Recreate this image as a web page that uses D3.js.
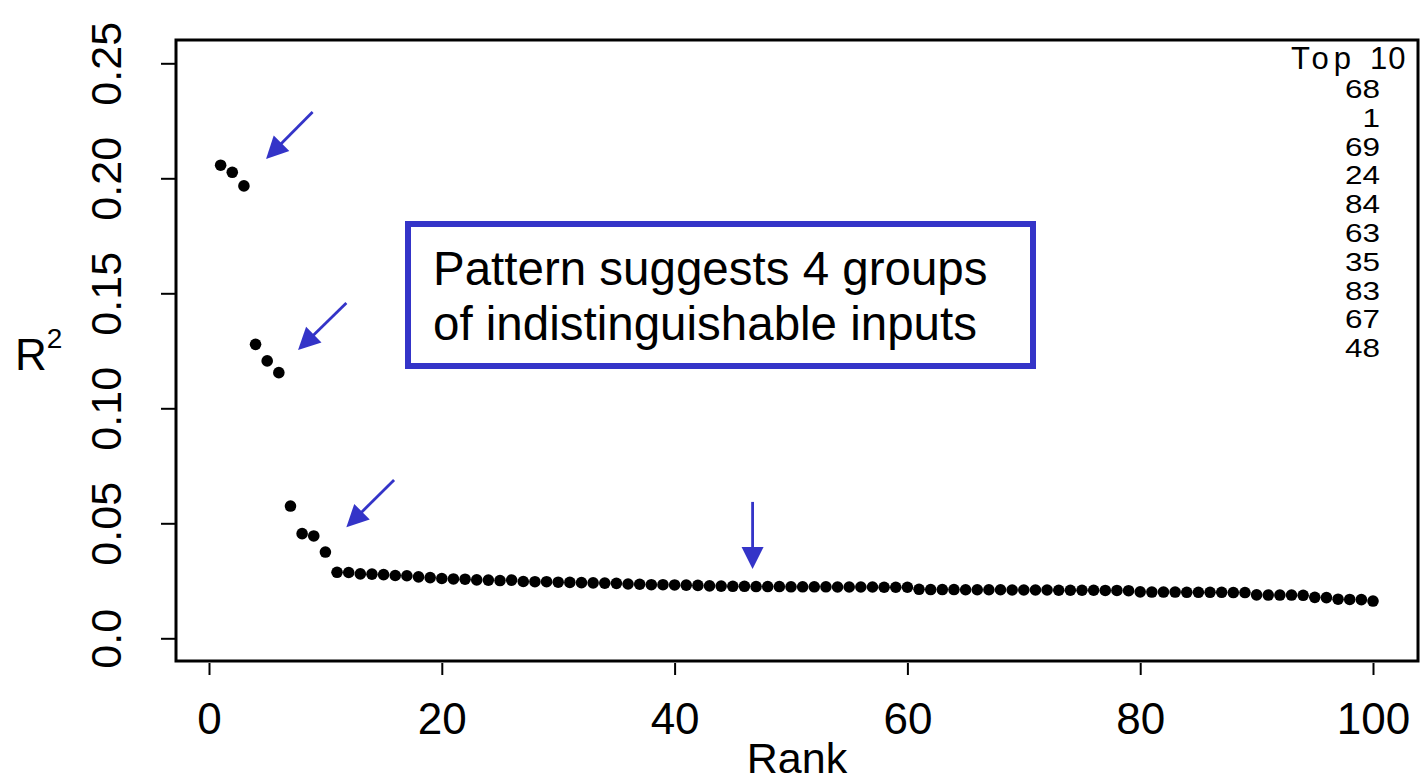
<!DOCTYPE html>
<html>
<head>
<meta charset="utf-8">
<script src="https://cdn.jsdelivr.net/npm/d3@7"></script>
<style>
  html, body { margin: 0; padding: 0; background: #fff; }
  svg { display: block; }
</style>
</head>
<body>
<svg id="chart" width="1425" height="783"></svg>
<script>
// R^2 of each input, sorted by rank (rank = position + 1)
const r2Values = [
  0.2057, 0.2026, 0.1967, 0.1278, 0.1206, 0.1155, 0.0575, 0.0455, 0.0445, 0.0375,
  0.0287, 0.0286, 0.0280, 0.0279, 0.0277, 0.0273, 0.0272, 0.0267, 0.0264, 0.0260,
  0.0258, 0.0257, 0.0254, 0.0253, 0.0251, 0.0253, 0.0247, 0.0246, 0.0246, 0.0244,
  0.0243, 0.0242, 0.0241, 0.0240, 0.0239, 0.0236, 0.0235, 0.0233, 0.0233, 0.0232,
  0.0231, 0.0230, 0.0228, 0.0227, 0.0226, 0.0226, 0.0225, 0.0225, 0.0225, 0.0224,
  0.0224, 0.0224, 0.0224, 0.0223, 0.0223, 0.0223, 0.0223, 0.0222, 0.0222, 0.0222,
  0.0213, 0.0212, 0.0212, 0.0212, 0.0211, 0.0211, 0.0211, 0.0211, 0.0210, 0.0210,
  0.0210, 0.0210, 0.0209, 0.0209, 0.0209, 0.0209, 0.0208, 0.0208, 0.0207, 0.0202,
  0.0201, 0.0201, 0.0201, 0.0200, 0.0200, 0.0200, 0.0200, 0.0199, 0.0199, 0.0189,
  0.0188, 0.0188, 0.0188, 0.0187, 0.0178, 0.0177, 0.0170, 0.0169, 0.0168, 0.0162
];

const xTicks = [0, 20, 40, 60, 80, 100];
const yTicks = [0, 0.05, 0.10, 0.15, 0.20, 0.25];
const yTickLabels = ["0.0", "0.05", "0.10", "0.15", "0.20", "0.25"];

// Inputs with the ten highest R^2 values
const topTitleWords = ["Top", "10"];
const topInputs = ["68", "1", "69", "24", "84", "63", "35", "83", "67", "48"];

// Arrows pointing at each group, in (rank, R^2) units
const arrowFrom = [[8.9, 0.2288], [11.8, 0.1458], [15.9, 0.0688], [46.7, 0.0593]];
const arrowTo   = [[4.9, 0.2084], [7.65, 0.1253], [11.8, 0.0483], [46.7, 0.0301]];

const noteLines = ["Pattern suggests 4 groups", "of indistinguishable inputs"];

// ---- layout ----
const FONT = "'Liberation Sans', Arial, Helvetica, sans-serif";
const BLUE = "#3434c8";
const box = { left: 176, right: 1418, top: 40, bottom: 661 };

const svg = d3.select("#chart");

const x = d3.scaleLinear().domain([0, 100]).range([209, 1373]);
const y = d3.scaleLinear().domain([0, 0.25]).range([638.3, 63.3]);

// plot frame
svg.append("rect")
  .attr("x", box.left).attr("y", box.top)
  .attr("width", box.right - box.left).attr("height", box.bottom - box.top)
  .attr("fill", "none").attr("stroke", "#000").attr("stroke-width", 3);

// x axis
const xAxis = svg.append("g")
  .attr("transform", `translate(0,${box.bottom + 2})`)
  .call(d3.axisBottom(x).tickValues(xTicks).tickSize(12).tickPadding(28).tickFormat(d3.format("d")));
xAxis.select(".domain").remove();
xAxis.selectAll(".tick line").attr("stroke", "#000").attr("stroke-width", 2);
xAxis.selectAll(".tick text")
  .attr("fill", "#000").style("font-family", FONT).style("font-size", "44px");

// y axis with rotated labels
const yAxis = svg.append("g")
  .attr("transform", `translate(${box.left - 1},0)`)
  .call(d3.axisLeft(y).tickValues(yTicks).tickSize(14)
    .tickFormat((d, i) => yTickLabels[i]));
yAxis.select(".domain").remove();
yAxis.selectAll(".tick line").attr("stroke", "#000").attr("stroke-width", 2);
yAxis.selectAll(".tick text")
  .attr("fill", "#000")
  .attr("transform", "rotate(-90)")
  .attr("x", 0).attr("y", -54).attr("dy", 0)
  .attr("text-anchor", "middle")
  .style("font-family", FONT).style("font-size", "43px");

// axis titles
svg.append("text")
  .attr("x", (box.left + box.right) / 2).attr("y", 773)
  .attr("text-anchor", "middle")
  .style("font-family", FONT).style("font-size", "43px")
  .text("Rank");

const yTitle = svg.append("text")
  .attr("x", 15).attr("y", 370)
  .style("font-family", FONT).style("font-size", "44px");
yTitle.append("tspan").text("R");
yTitle.append("tspan").attr("dy", -22).style("font-size", "28px").text("2");

// points
svg.append("g").selectAll("circle")
  .data(r2Values)
  .join("circle")
  .attr("cx", (d, i) => x(i + 1))
  .attr("cy", d => y(d))
  .attr("r", 5.8)
  .attr("fill", "#000");

// top-10 listing
const topTitle = svg.append("text")
  .attr("y", 69)
  .style("font-family", FONT).style("font-size", "31px");
topTitle.append("tspan").attr("x", 1291)
  .style("letter-spacing", "5px")
  .text(topTitleWords[0]);
topTitle.append("tspan").text(" ");
topTitle.append("tspan").attr("x", 1370)
  .style("letter-spacing", "1px")
  .text(topTitleWords[1]);

svg.append("g").selectAll("text")
  .data(topInputs)
  .join("text")
  .attr("x", 1380)
  .attr("y", (d, i) => 98 + i * 28.8)
  .attr("text-anchor", "end")
  .attr("textLength", d => d.length * 17.5)
  .attr("lengthAdjust", "spacingAndGlyphs")
  .style("font-family", FONT).style("font-size", "25px")
  .text(d => d);

// arrows
const HEAD_LEN = 22, HEAD_HALF = 11;
arrowFrom.forEach((from, i) => {
  const to = arrowTo[i];
  const x0 = x(from[0]), y0 = y(from[1]);
  const x1 = x(to[0]), y1 = y(to[1]);
  const len = Math.hypot(x1 - x0, y1 - y0);
  const ux = (x1 - x0) / len, uy = (y1 - y0) / len;
  const bx = x1 - ux * HEAD_LEN, by = y1 - uy * HEAD_LEN;
  svg.append("line")
    .attr("x1", x0).attr("y1", y0).attr("x2", bx + ux * 2).attr("y2", by + uy * 2)
    .attr("stroke", BLUE).attr("stroke-width", 2.8);
  svg.append("path")
    .attr("d", `M${x1},${y1}L${bx - uy * HEAD_HALF},${by + ux * HEAD_HALF}L${bx + uy * HEAD_HALF},${by - ux * HEAD_HALF}Z`)
    .attr("fill", BLUE);
});

// note box
svg.append("rect")
  .attr("x", 408).attr("y", 224)
  .attr("width", 625).attr("height", 142)
  .attr("fill", "#fff").attr("stroke", BLUE).attr("stroke-width", 6);

svg.append("g").selectAll("text")
  .data(noteLines)
  .join("text")
  .attr("x", 433)
  .attr("y", (d, i) => 285 + i * 55)
  .style("font-family", FONT).style("font-size", "47.5px")
  .attr("fill", "#000")
  .text(d => d);
</script>
</body>
</html>
